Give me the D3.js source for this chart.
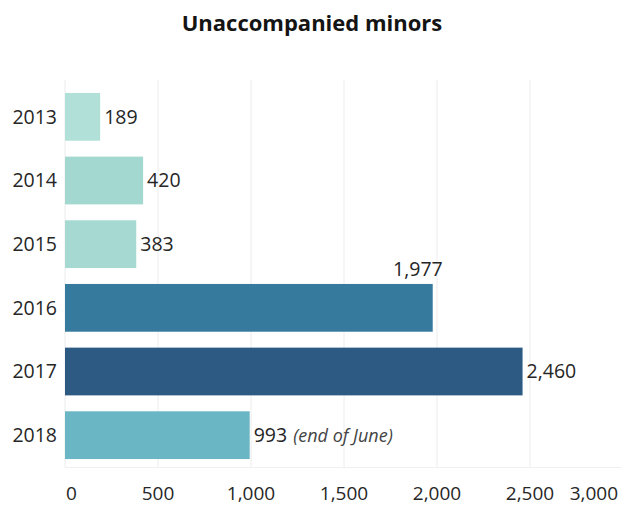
<!DOCTYPE html>
<html>
<head>
<meta charset="utf-8">
<script src="https://cdn.jsdelivr.net/npm/d3@7"></script>
<style>
  html, body { margin: 0; padding: 0; background: #fff; }
  svg { display: block; font-family: "Open Sans", "Noto Sans", sans-serif; }
</style>
</head>
<body>
<svg id="chart" width="621" height="507"></svg>
<script>
const years = ["2013", "2014", "2015", "2016", "2017", "2018"];
const values = [189, 420, 383, 1977, 2460, 993];
const colors = ["#b0e0d7", "#a2d8d0", "#a5d9d2", "#367a9d", "#2c5a82", "#6bb6c4"];
const notes = ["", "", "", "", "", "(end of June)"];
const tickValues = [0, 500, 1000, 1500, 2000, 2500, 3000];
const title = "Unaccompanied minors";

const svg = d3.select("#chart");
const x = d3.scaleLinear().domain([0, 3000]).range([65, 623]);
const y = d3.scaleBand().domain(years).range([85, 467]).paddingInner(0.25).paddingOuter(0.125);
const fmt = d3.format(",");
const textColor = "#262626";

svg.append("text")
  .attr("x", 312).attr("y", 31)
  .attr("text-anchor", "middle")
  .attr("font-size", 22).attr("font-weight", "bold")
  .attr("fill", "#141414")
  .text(title);

// gridlines
svg.append("g").selectAll("line").data(tickValues.slice(0, 6)).join("line")
  .attr("x1", d => x(d)).attr("x2", d => x(d))
  .attr("y1", 80).attr("y2", 467)
  .attr("stroke", "#ececec").attr("stroke-width", 1);
svg.append("line")
  .attr("x1", 65).attr("x2", 621).attr("y1", 467.5).attr("y2", 467.5)
  .attr("stroke", "#f0f0f0");

// bars
svg.append("g").selectAll("rect").data(years).join("rect")
  .attr("x", x(0))
  .attr("y", d => y(d))
  .attr("width", (d, i) => x(values[i]) - x(0))
  .attr("height", y.bandwidth())
  .attr("fill", (d, i) => colors[i]);

// year labels
svg.append("g").selectAll("text").data(years).join("text")
  .attr("x", 57)
  .attr("y", d => y(d) + y.bandwidth() / 2)
  .attr("dy", "0.35em")
  .attr("text-anchor", "end")
  .attr("font-size", 19.5)
  .attr("fill", textColor)
  .text(d => d);

// value labels
svg.append("g").selectAll("text").data(years).join("text")
  .attr("font-size", 19.5)
  .attr("fill", textColor)
  .each(function(d, i) {
    const t = d3.select(this);
    if (d === "2016") {
      t.attr("x", x(values[i]) + 10).attr("y", y(d) - 8).attr("text-anchor", "end");
    } else {
      t.attr("x", x(values[i]) + 4).attr("y", y(d) + y.bandwidth() / 2).attr("dy", "0.35em");
    }
    t.append("tspan").text(fmt(values[i]));
    if (notes[i]) {
      t.append("tspan").attr("dx", 6).attr("font-style", "italic").attr("font-size", 18).attr("fill", "#444").text(notes[i]);
    }
  });

// x axis labels
svg.append("g").selectAll("text").data(tickValues).join("text")
  .attr("x", d => d === 3000 ? 618 : d === 0 ? x(d) + 1 : x(d))
  .attr("y", 500)
  .attr("text-anchor", d => d === 3000 ? "end" : d === 0 ? "start" : "middle")
  .attr("font-size", 19)
  .attr("fill", textColor)
  .text(d => fmt(d));
</script>
</body>
</html>
